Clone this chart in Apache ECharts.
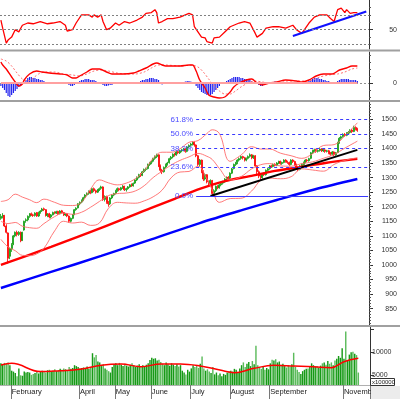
<!DOCTYPE html>
<html>
<head>
<meta charset="utf-8">
<script src="https://cdn.jsdelivr.net/npm/echarts@6/dist/echarts.min.js"></script>
<style>
  html, body { margin: 0; padding: 0; background: #fff; }
  #main { width: 400px; height: 399px; }
</style>
</head>
<body>
<div id="main"></div>
<script>
// ==================================================
// data
var categoryCount = 206;
var monthNames = ['February', 'April', 'May', 'June', 'July', 'August', 'September', 'November'];
var monthIdx = [6, 44, 64, 84, 106, 128, 150, 191];

// [open, close, low, high]
var candles = [
  [1160,1167,1155,1175],[1168,1170,1160,1178],[1170,1134,1130,1172],[1134,1112,1108,1140],[1110,1023,1005,1112],
  [1030,1056,1020,1060],[1056,1070,1045,1075],[1072,1100,1068,1103],[1100,1112,1095,1115],[1112,1105,1098,1118],
  [1105,1112,1100,1116],[1112,1083,1078,1115],[1085,1112,1082,1114],[1120,1150,1118,1152],[1152,1155,1145,1160],
  [1155,1167,1150,1170],[1167,1175,1162,1178],[1176,1172,1168,1180],[1172,1170,1165,1176],[1170,1178,1166,1181],
  [1180,1168,1165,1182],[1168,1180,1165,1183],[1180,1185,1176,1188],[1186,1192,1182,1196],[1193,1190,1185,1197],
  [1190,1170,1166,1192],[1170,1175,1164,1178],[1176,1165,1160,1179],[1165,1172,1160,1175],[1172,1180,1170,1183],
  [1181,1178,1174,1184],[1178,1183,1175,1186],[1184,1176,1172,1186],[1176,1185,1174,1188],[1186,1180,1177,1189],
  [1180,1172,1168,1182],[1172,1175,1168,1178],[1176,1168,1164,1178],[1168,1150,1145,1170],[1150,1160,1146,1163],
  [1160,1172,1157,1175],[1173,1190,1171,1192],[1190,1195,1186,1198],[1196,1210,1194,1212],[1210,1215,1205,1218],
  [1216,1222,1212,1225],[1222,1231,1219,1234],[1232,1240,1228,1243],[1240,1245,1236,1249],[1246,1252,1241,1256],
  [1253,1248,1243,1257],[1248,1262,1246,1265],[1262,1255,1250,1266],[1255,1250,1245,1259],[1250,1258,1247,1261],
  [1258,1262,1254,1266],[1263,1268,1258,1272],[1268,1225,1220,1270],[1225,1235,1218,1239],[1235,1215,1210,1238],
  [1215,1210,1200,1220],[1210,1230,1206,1233],[1230,1240,1226,1243],[1240,1245,1236,1248],[1246,1255,1242,1258],
  [1256,1262,1251,1266],[1262,1258,1253,1265],[1258,1265,1255,1268],[1266,1270,1261,1274],[1270,1258,1254,1272],
  [1258,1262,1252,1265],[1262,1268,1258,1271],[1268,1275,1265,1278],[1276,1272,1268,1280],[1272,1280,1269,1283],
  [1281,1292,1278,1295],[1292,1300,1288,1304],[1301,1310,1297,1313],[1311,1308,1302,1315],[1308,1320,1305,1323],
  [1320,1328,1316,1331],[1328,1330,1322,1334],[1331,1345,1328,1348],[1345,1350,1340,1354],[1351,1355,1346,1359],
  [1356,1365,1352,1368],[1366,1372,1361,1376],[1372,1378,1367,1382],[1378,1340,1336,1380],[1340,1325,1318,1345],
  [1325,1320,1312,1330],[1320,1335,1317,1338],[1336,1345,1332,1348],[1345,1350,1341,1354],[1351,1365,1348,1368],
  [1365,1370,1360,1374],[1371,1380,1366,1383],[1381,1378,1372,1385],[1378,1388,1375,1391],[1389,1385,1380,1392],
  [1385,1392,1381,1395],[1392,1395,1387,1399],[1396,1398,1390,1402],[1398,1390,1385,1401],[1390,1405,1387,1408],
  [1405,1410,1400,1414],[1411,1415,1406,1419],[1415,1420,1410,1425],[1421,1412,1406,1424],[1412,1375,1370,1414],
  [1375,1345,1340,1378],[1345,1360,1338,1364],[1360,1320,1315,1362],[1320,1295,1288,1325],[1295,1310,1290,1314],
  [1310,1285,1280,1312],[1285,1278,1270,1290],[1278,1290,1272,1294],[1290,1245,1237,1292],[1245,1255,1238,1260],
  [1255,1270,1250,1273],[1270,1265,1260,1274],[1265,1275,1262,1278],[1275,1280,1270,1284],[1281,1285,1276,1289],
  [1285,1295,1282,1298],[1295,1300,1290,1304],[1301,1298,1293,1305],[1298,1315,1295,1318],[1315,1330,1312,1333],
  [1331,1345,1328,1348],[1345,1350,1340,1354],[1351,1360,1346,1363],[1360,1365,1355,1369],[1366,1372,1361,1376],
  [1372,1368,1362,1375],[1368,1360,1355,1371],[1360,1365,1356,1369],[1366,1372,1362,1376],[1373,1378,1368,1383],
  [1378,1368,1363,1381],[1368,1375,1364,1378],[1375,1340,1335,1377],[1340,1320,1312,1343],[1320,1305,1298,1325],
  [1305,1300,1292,1310],[1300,1312,1296,1315],[1313,1310,1305,1317],[1310,1325,1307,1328],[1325,1330,1320,1334],
  [1331,1340,1327,1343],[1340,1338,1333,1344],[1338,1345,1335,1348],[1346,1342,1338,1349],[1342,1350,1339,1353],
  [1350,1355,1346,1358],[1356,1348,1344,1358],[1348,1352,1344,1355],[1352,1360,1349,1363],[1360,1355,1351,1363],
  [1355,1352,1347,1358],[1352,1345,1340,1355],[1345,1360,1342,1363],[1360,1355,1350,1363],[1355,1345,1340,1358],
  [1345,1335,1330,1348],[1335,1328,1322,1338],[1328,1340,1325,1343],[1340,1345,1336,1348],[1345,1352,1341,1355],
  [1352,1360,1349,1363],[1360,1358,1353,1364],[1358,1365,1355,1368],[1366,1385,1363,1388],[1385,1392,1381,1396],
  [1392,1395,1388,1399],[1396,1390,1385,1399],[1390,1393,1386,1396],[1393,1398,1389,1401],[1398,1392,1388,1401],
  [1392,1395,1388,1398],[1395,1390,1385,1398],[1390,1392,1386,1395],[1392,1385,1380,1395],[1385,1380,1375,1388],
  [1380,1388,1377,1391],[1388,1378,1373,1390],[1378,1385,1375,1388],[1386,1420,1384,1423],[1420,1435,1416,1439],
  [1435,1440,1430,1444],[1441,1448,1437,1452],[1448,1445,1440,1453],[1445,1452,1442,1456],[1453,1455,1447,1460],
  [1455,1462,1451,1466],[1463,1458,1453,1467],[1458,1472,1456,1478],[1472,1468,1462,1476],[1468,1462,1457,1471]
];

// volume, x100000
var volumes = [
  7600,7400,7700,7500,7800,7200,6000,5800,5500,4800,
  6500,5000,4900,5800,5600,5700,5600,5100,5300,5500,
  5700,5400,5800,6000,5900,5600,6100,6200,5800,6000,
  6300,5900,6100,6400,6200,6500,6300,6000,6800,6400,
  6600,7200,7000,6800,6500,6600,6700,6500,6900,6400,
  6700,9800,8900,9400,8000,7800,7000,7400,6500,6200,
  5900,5600,6800,7400,7600,7200,7700,7300,7000,7500,
  7100,6900,7300,7600,7200,6800,7100,7400,7000,7200,
  6900,7300,7600,8300,8800,8600,8700,8200,8400,7900,
  7500,7200,7800,7400,7100,7600,7300,7000,7400,6900,
  7200,6000,5600,5200,6200,5800,6500,7200,6800,7100,
  6600,7500,9100,6500,6000,6300,5800,5500,6800,5200,
  5600,5000,5400,4800,5300,5100,5600,5900,6000,5800,
  6400,6200,5600,6500,7200,7800,6800,7500,7900,7000,
  8100,7400,11400,7200,6800,6400,7000,6200,6600,6300,
  7600,8400,8200,8500,7800,8000,7300,7500,7000,6700,
  7200,6900,7400,9900,6800,6200,5700,5300,5900,6200,
  6400,6500,6800,7600,7200,6900,7000,6600,7100,7600,
  7800,7300,8100,7500,7800,7200,8200,8600,9200,8800,
  10900,8600,14500,8300,9500,10000,10100,9700,9400,5600
];
var volumeMA = [
  [0,7240],[6,7600],[22,5800],[33,6000],[44,6300],[56,7200],[67,7450],[78,6870],[89,7450],
  [100,7450],[111,7020],[122,6150],[130,5570],[141,6520],[152,7170],[163,7020],[174,6870],
  [184,6660],[191,7960],[199,8700]
];

// price overlays: [bar index, value]
var ma100 = [[0,1000],[28,1062],[56,1127],[84,1196],[97,1227],[111,1261],[125,1288],[139,1305],[153,1323],[167,1336],[181,1350],[199,1364]];
var ma200 = [[0,921],[28,976],[56,1031],[84,1088],[111,1144],[135,1189],[154,1223],[175,1259],[199,1295]];
var bbUpper = [[0,1218],[4,1224],[8,1243],[12,1233],[16,1224],[20,1214],[24,1226],[30,1215],[35,1205],[40,1204],[45,1215],[50,1260],[55,1292],[60,1282],[65,1275],[70,1281],[75,1296],[80,1324],[85,1366],[90,1387],[95,1387],[100,1399],[105,1421],[110,1427],[115,1451],[118,1464],[122,1451],[128,1356],[134,1377],[140,1406],[145,1398],[150,1398],[156,1384],[162,1375],[168,1366],[174,1382],[180,1410],[186,1413],[192,1443],[199,1488]];
var bbMid = [[0,1150],[4,1142],[8,1146],[12,1133],[16,1128],[20,1126],[24,1142],[30,1166],[35,1178],[40,1174],[45,1181],[50,1198],[55,1218],[60,1238],[65,1245],[70,1247],[75,1254],[80,1272],[85,1300],[90,1322],[95,1343],[100,1359],[105,1371],[110,1383],[115,1373],[118,1362],[122,1331],[128,1292],[134,1303],[140,1330],[145,1344],[150,1348],[156,1340],[162,1339],[168,1348],[174,1354],[180,1366],[186,1379],[192,1401],[199,1425]];
var bbLower = [[0,1088],[4,1062],[8,1049],[12,1033],[16,1032],[20,1038],[24,1057],[30,1117],[35,1150],[40,1144],[45,1147],[50,1136],[55,1144],[60,1194],[65,1215],[70,1213],[75,1212],[80,1220],[85,1234],[90,1257],[95,1299],[100,1319],[105,1321],[110,1339],[115,1295],[118,1258],[122,1215],[128,1228],[134,1229],[140,1254],[145,1290],[150,1298],[156,1296],[162,1303],[168,1330],[174,1326],[180,1322],[186,1345],[192,1359],[199,1368]];
var priceTrend = [[117,1237],[199,1395]];
var fibNames = ['0.0%', '23.6%', '38.2%', '50.0%', '61.8%'];
var fibValues = [1237, 1337, 1400, 1450, 1500];

// RSI
var rsi = [[0,63],[1,52],[3,32],[4,36],[6,40],[8,50],[10,47],[12,56],[15,59],[18,58],[22,61],[26,58],[29,59],[33,61],[36,56],[37,48],[40,50],[42,59],[45,70],[49,70],[51,67],[52,70],[54,67],[56,70],[57,61],[59,50],[61,52],[64,59],[66,56],[69,61],[72,59],[76,63],[79,67],[81,72],[84,73],[86,77],[87,73],[88,59],[90,61],[93,65],[96,65],[100,67],[103,70],[105,72],[107,70],[108,54],[110,47],[112,40],[114,39],[115,34],[118,32],[119,39],[122,40],[125,47],[128,54],[130,56],[133,59],[136,61],[139,59],[140,61],[142,45],[143,40],[146,45],[148,52],[152,54],[155,54],[159,52],[163,56],[165,50],[168,45],[169,47],[172,59],[175,67],[178,70],[182,70],[184,65],[186,61],[188,77],[190,79],[192,73],[193,77],[195,72],[197,73],[199,73]];
var rsiTrend = [[163,41.5],[204,74.5]];
var rsiLevels = [30, 50, 70];

// MACD
var macd = [[0,21],[1,18],[3,14],[6,6],[8,1],[10,-3],[12,-1],[13,3],[16,9],[20,12],[23,11],[27,10],[33,9],[37,8],[40,5],[42,5],[44,7],[48,11],[51,14],[55,14],[59,11],[62,9],[68,9],[74,10],[77,12],[81,15],[85,19],[87,20],[90,18],[92,17],[100,17],[105,18],[107,18],[109,12],[111,3],[114,-5],[116,-12],[119,-14],[122,-15],[125,-14],[128,-9],[130,-4],[133,0],[137,3],[140,4],[143,0],[146,-2],[150,0],[154,1],[159,3],[165,2],[168,1],[172,3],[176,7],[180,9],[185,9],[189,13],[193,15],[196,17],[199,17]];
var macdSignal = [[0,24],[3,22],[6,17],[9,10],[12,4],[15,2],[18,5],[21,9],[25,11],[30,11],[35,9],[40,8],[44,7],[48,9],[52,12],[56,13],[60,12],[65,10],[70,9],[75,9],[80,11],[84,15],[88,18],[92,18],[100,17],[106,18],[110,16],[113,11],[116,4],[119,-3],[122,-8],[125,-11],[128,-11],[131,-8],[134,-4],[138,0],[142,2],[146,1],[150,0],[155,0],[160,2],[165,2],[170,2],[174,3],[178,6],[183,8],[188,9],[192,11],[196,14],[199,15]];
var macdHist = [
  -3,-5,-7,-10,-13,-14,-12,-10,-8,-6,
  -4,-2,-1,0,3,5,6,6,5,5,
  4,4,3,3,2,1,1,0,0,1,
  0,-0.5,0,1,0,0,0.5,-1,-2,-3,
  -3,-2,0,1,2,3,3,4,4,4,
  3,3,3,2,1,-0.5,-1,-2,-3,-3,
  -2.5,-2,-2,-1,-1,-0.5,0,0.5,0,-0.5,
  0,0.5,0,0.5,1,0.5,1,1,2,3,
  3,4,4,5,5,5,4,4,3,-1,
  -1.5,-1,-0.5,0,0,0.5,0,0,0.5,0,
  0.5,0,1,1.5,2,2,1.5,1,-1,-3,
  -5,-7,-9,-10,-11,-12,-12,-12,-11,-9,
  -7,-5,-3,-1,0,1,2,3,4,5,
  6,6,6,6,5,5,4,4,3,3,
  2,1,0,-1,-2,-3,-3,-2,-1,0,
  0.5,1,1,1.5,1,1,0.5,1,1,0.5,
  0.5,0,0.5,0,-0.5,-1,-0.5,0,0.5,0.5,
  1,1,2,3,4,5,5,5,4,4,
  3,3,2,2,1,1,0.5,1,2,3,
  4,4,4,4,4,3,3,3,3,2
];


// ==================================================
// helpers
var FONT = 'Liberation Sans, Arial, sans-serif';
var cats = [];
for (var i = 0; i < categoryCount; i++) cats.push(i);

function isMonth(idx) { return monthIdx.indexOf(idx) >= 0; }

function xAxisFor(gridIndex, showLabels) {
  return {
    type: 'category', gridIndex: gridIndex, data: cats, boundaryGap: true,
    axisLine: { show: showLabels, lineStyle: { color: '#b0b0b0' } },
    axisTick: { show: showLabels, length: 14, interval: function (i) { return isMonth(i); }, lineStyle: { color: '#777' } },
    axisLabel: {
      show: showLabels, interval: function (i) { return isMonth(i); },
      formatter: function (v, i) { var k = monthIdx.indexOf(i); return k >= 0 ? monthNames[k] : ''; },
      align: 'left', margin: 3, fontSize: 7.5, color: '#222', fontFamily: FONT
    },
    splitLine: { show: false }
  };
}

function mainAxis(gridIndex, min, max, labels, ticks, align, margin) {
  return {
    type: 'value', gridIndex: gridIndex, position: 'right', min: min, max: max,
    axisLine: { show: true, lineStyle: { color: '#333' } },
    axisTick: { show: true, length: 4, customValues: ticks, lineStyle: { color: '#333' } },
    axisLabel: {
      customValues: labels, align: align, margin: margin, fontSize: 7, color: '#333', fontFamily: FONT,
      formatter: function (v) { return String(v); }
    },
    splitLine: { show: false }
  };
}

function minorAxis(gridIndex, min, max, ticks) {
  return {
    type: 'value', gridIndex: gridIndex, position: 'right', min: min, max: max,
    axisLine: { show: false },
    axisTick: { show: true, length: 2, customValues: ticks, lineStyle: { color: '#555' } },
    axisLabel: { show: false },
    splitLine: { show: false }
  };
}

var priceLabels = [];
for (var p = 850; p <= 1500; p += 50) priceLabels.push(p);
var priceTicks = [];
for (var q = 800; q <= 1550; q += 10) priceTicks.push(q);

function lineSeries(xi, yi, data, color, width, extra) {
  var s = {
    type: 'line', xAxisIndex: xi, yAxisIndex: yi, data: data, symbol: 'none',
    lineStyle: { color: color, width: width }, silent: true, clip: true
  };
  for (var k in extra) s[k] = extra[k];
  return s;
}

// fib lines
var fibLines = fibValues.map(function (v, k) {
  return [
    { coord: [109, v], name: fibNames[k],
      lineStyle: { type: k === 0 ? 'solid' : [3, 3], color: '#3a3aff', width: 1 } },
    { coord: [205, v] }
  ];
});

var volumeData = volumes.map(function (v, k) {
  var up = candles[k][1] >= candles[k][0];
  return { value: v, itemStyle: { color: up ? '#169a16' : '#5cbb5c' } };
});

var chart = echarts.init(document.getElementById('main'), null, { renderer: 'canvas' });

var option = {
  animation: false,
  backgroundColor: '#fff',
  grid: [
    { left: 0, right: 30, top: 0, height: 49 },
    { left: 0, right: 30, top: 52, height: 48 },
    { left: 0, right: 30, top: 102, height: 223 },
    { left: 0, right: 30, top: 327, height: 58 }
  ],
  xAxis: [xAxisFor(0, false), xAxisFor(1, false), xAxisFor(2, false), xAxisFor(3, true)],
  yAxis: [
    mainAxis(0, 24, 90, [50], [50], 'right', 28),
    minorAxis(0, 24, 90, [30, 40, 60, 70, 80]),
    mainAxis(1, -17, 31, [0], [0], 'right', 28),
    minorAxis(1, -17, 31, [-14, -7, 7, 14, 21, 28]),
    mainAxis(2, 794, 1559.4, priceLabels, priceLabels, 'right', 28),
    minorAxis(2, 794, 1559.4, priceTicks),
    mainAxis(3, 2891, 15500, [5000, 10000], [5000, 10000, 15000], 'left', 2)
  ],
  series: [
    // RSI
    lineSeries(0, 0, rsi, '#ff0000', 1.3, {
      markLine: {
        silent: true, symbol: ['none', 'none'], label: { show: false },
        lineStyle: { color: '#808080', type: [2, 2], width: 1 },
        data: rsiLevels.map(function (v) { return { yAxis: v }; })
      }
    }),
    lineSeries(0, 0, rsiTrend, '#1010ff', 2),

    // MACD
    {
      type: 'bar', xAxisIndex: 1, yAxisIndex: 2, data: macdHist, barWidth: 1.2,
      itemStyle: { color: '#2323ee' }, silent: true,
      markLine: {
        silent: true, symbol: ['none', 'none'], label: { show: false },
        data: [
          { yAxis: 0, lineStyle: { color: '#909090', type: [2, 2], width: 1 } },
          [{ coord: [0, 0], lineStyle: { color: '#ffa0a0', type: 'solid', width: 2 } }, { coord: [199, 0] }]
        ]
      }
    },
    lineSeries(1, 2, macdSignal, '#ff7070', 1, { lineStyle: { color: '#ff7070', width: 1, type: [2, 2] }, smooth: 0.3 }),
    lineSeries(1, 2, macd, '#ff0000', 1.4, { smooth: 0.3 }),

    // price
    lineSeries(2, 4, ma200, '#0000ff', 2.4, { smooth: 0.3 }),
    lineSeries(2, 4, ma100, '#ff0000', 2.4, { smooth: 0.3 }),
    lineSeries(2, 4, bbUpper, '#ff6a6a', 0.9, { smooth: 0.4 }),
    lineSeries(2, 4, bbMid, '#ff6a6a', 0.9, { smooth: 0.4 }),
    lineSeries(2, 4, bbLower, '#ff6a6a', 0.9, { smooth: 0.4 }),
    {
      type: 'candlestick', xAxisIndex: 2, yAxisIndex: 4, data: candles, barWidth: 1.5,
      itemStyle: { color: '#5fc45f', color0: '#ff0000', borderColor: '#0a9a0a', borderColor0: '#ff0000', borderWidth: 0.8 },
      silent: true,
      markLine: {
        silent: true, symbol: ['none', 'none'],
        label: { show: true, position: 'start', formatter: '{b}', color: '#4a4aff', fontSize: 8, fontFamily: FONT, distance: 3 },
        data: fibLines
      }
    },
    lineSeries(2, 4, priceTrend, '#000000', 2),

    // volume
    {
      type: 'bar', xAxisIndex: 3, yAxisIndex: 6, data: volumeData, barWidth: '80%',
      clip: true, silent: true
    },
    lineSeries(3, 6, volumeMA, '#ff0000', 1.5, { smooth: 0.4 })
  ],
  graphic: [
    { type: 'line', z: 100, shape: { x1: 0, y1: 50.5, x2: 400, y2: 50.5 }, style: { stroke: '#a0a0a0', lineWidth: 2 } },
    { type: 'line', z: 100, shape: { x1: 0, y1: 101, x2: 400, y2: 101 }, style: { stroke: '#a0a0a0', lineWidth: 2 } },
    { type: 'line', z: 100, shape: { x1: 0, y1: 326, x2: 400, y2: 326 }, style: { stroke: '#a0a0a0', lineWidth: 2 } },
    { type: 'rect', z: 100, shape: { x: 371, y: 386, width: 29, height: 13 }, style: { fill: '#ececec' } },
    { type: 'rect', z: 101, shape: { x: 370.5, y: 378.5, width: 24, height: 7 }, style: { fill: '#fff', stroke: '#333', lineWidth: 1 } },
    { type: 'text', z: 102, x: 372, y: 379, style: { text: 'x100000', fontSize: 6, fill: '#222', fontFamily: FONT } }
  ]
};

chart.setOption(option);
</script>
</body>
</html>
